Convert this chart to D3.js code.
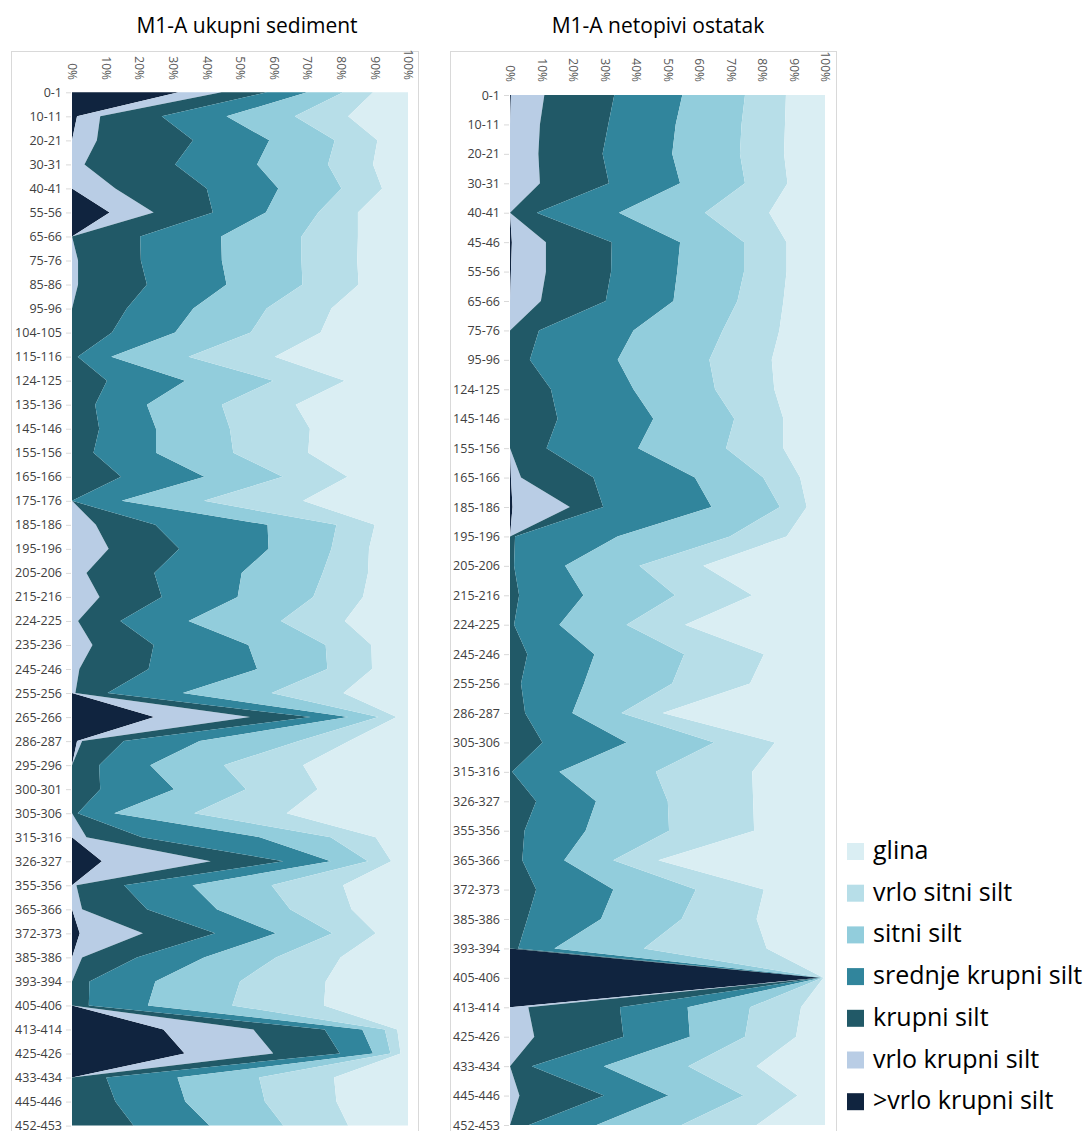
<!DOCTYPE html>
<html>
<head>
<meta charset="utf-8">
<script src="https://cdn.jsdelivr.net/npm/d3@7"></script>
<style>
  body { margin: 0; background: #ffffff; }
  svg { display: block; }
  text { font-family: "Open Sans", "Noto Sans", sans-serif; }
</style>
</head>
<body>
<svg id="chart" width="1090" height="1131"></svg>
<script>
// ---------- DATA ----------
const seriesNames = [">vrlo krupni silt", "vrlo krupni silt", "krupni silt", "srednje krupni silt", "sitni silt", "vrlo sitni silt", "glina"];
const seriesColors = ["#10243F", "#B9CDE5", "#215967", "#31859C", "#92CDDC", "#B7DEE8", "#DAEEF3"];
const percentTicks = ["0%", "10%", "20%", "30%", "40%", "50%", "60%", "70%", "80%", "90%", "100%"];

// Chart 1: M1-A ukupni sediment
const titleA = "M1-A ukupni sediment";
const depthsA = ["0-1","10-11","20-21","30-31","40-41","55-56","65-66","75-76","85-86","95-96","104-105","115-116","124-125","135-136","145-146","155-156","165-166","175-176","185-186","195-196","205-206","215-216","224-225","235-236","245-246","255-256","265-266","286-287","295-296","300-301","305-306","315-316","326-327","355-356","365-366","372-373","385-386","393-394","405-406","413-414","425-426","433-434","445-446","452-453"];
const sedGtVK  = [31.7,1.5,0,0,0,11.2,0,0,0,0,0,0,0,0,0,0,0,0,0,0,0,0,0,0,0,0,24.5,1.5,0,0,0,0,8.9,0,0,2.3,0,0,0,27.2,33.5,0,0,0];
const sedVK    = [12.8,6.9,7.4,3.7,12.9,13.1,0,1.8,1.8,0,0,0,0,0,0,0,0,0,7.1,10.9,4.3,8.2,1.8,6.1,2.2,1.0,28.5,1.5,0,0,0,4.3,32.4,1.3,3.0,18.8,3.0,0,0,26.8,26.4,0,0,0];
const sedK     = [13.5,18.3,28.6,27.0,27.2,17.6,20.3,18.7,20.5,16.3,11.9,1.7,10.4,6.9,8.1,6.4,14.6,0,17.7,21.0,20.2,18.5,12.6,18.2,20.6,9.6,18.0,12.4,8.1,8.4,1.7,16.5,21.6,14.2,19.3,21.5,16.3,5.2,5.0,21.2,19.8,10.2,12.9,18.3];
const sedSK    = [12.0,19.3,22.7,24.4,21.3,15.8,24.1,24.1,23.7,19.8,18.8,10.0,23.3,15.4,16.9,18.6,24.8,14.8,33.4,26.6,26.0,22.6,20.3,28.2,32.3,22.4,11.2,22.6,15.2,22.0,10.9,35.1,14.1,20.4,20.8,18.1,20.0,19.6,17.6,11.2,9.9,21.2,20.8,22.6];
const sedS     = [10.7,20.3,19.5,21.1,18.8,15.6,23.9,23.7,22.6,21.8,22.5,23.0,26.2,22.3,22.0,23.0,23.3,24.5,20.5,18.7,24.1,22.5,27.5,23.0,20.9,26.4,9.0,29.5,21.9,21.4,23.8,21.1,11.1,23.5,21.8,16.8,21.4,25.2,25.1,6.7,5.2,24.3,23.7,22.0];
const sedVS    = [8.9,15.9,12.7,13.4,12.1,11.8,16.8,16.6,16.7,19.3,20.8,25.7,21.3,22.0,23.8,22.3,19.3,29.5,11.4,11.2,13.5,14.8,19.0,13.6,13.3,21.4,5.4,15.0,23.6,21.3,27.5,13.4,6.9,21.3,18.3,12.9,19.2,25.5,27.3,3.7,3.0,22.3,21.3,19.3];
const sedGlina = [10.4,17.8,9.1,10.4,7.7,14.9,14.9,15.1,14.7,22.8,26.0,39.6,18.8,33.4,29.2,29.7,18.0,31.2,9.9,11.6,11.9,13.4,18.8,10.9,10.7,19.2,3.4,17.5,31.2,26.9,36.1,9.6,5.0,19.3,16.8,9.6,20.1,24.5,25.0,3.2,2.2,22.0,21.3,17.8];

// Chart 2: M1-A netopivi ostatak
const titleB = "M1-A netopivi ostatak";
const depthsB = ["0-1","10-11","20-21","30-31","40-41","45-46","55-56","65-66","75-76","95-96","124-125","145-146","155-156","165-166","185-186","195-196","205-206","215-216","224-225","245-246","255-256","286-287","305-306","315-316","326-327","355-356","365-366","372-373","385-386","393-394","405-406","413-414","425-426","433-434","445-446","452-453"];
const ostGtVK  = [0.3,0,0,0,0,0.6,0.3,0,0,0,0,0,0,0.3,0.8,0,0,0,0,0,0,0,0,0,0,0,0,0,0,0,98.4,0,0,0,0,0];
const ostVK    = [10.6,9.5,9.0,9.5,0,10.8,11.1,9.8,0,0,0,0,0,3.2,18.2,0,0,0,0,0,0,0,0,0,0,0,0,0,0,0,0,5.8,7.7,0,3.0,0];
const ostK     = [22.2,21.7,20.4,21.9,8.5,20.9,20.7,20.6,9.2,6.3,13.0,15.1,11.6,23.0,10.6,1.6,1.3,2.9,1.3,5.5,3.5,4.8,10.3,0.7,8.3,4.6,3.9,8.3,5.5,2.6,0.2,29.1,28.3,6.9,26.8,6.0];
const ostSK    = [21.6,21.4,22.1,22.6,26.1,21.7,21.0,21.5,30.0,27.9,26.2,30.4,29.1,32.2,34.4,32.5,16.2,20.4,14.4,21.3,20.0,15.0,26.7,15.0,19.0,19.4,13.3,24.5,23.4,11.5,0.3,21.5,21.1,22.9,20.5,21.5];
const ostS     = [19.9,20.9,21.5,20.6,27.3,20.3,21.2,20.3,28.3,29.1,25.9,25.7,27.9,21.7,21.7,35.7,23.6,29.1,21.3,28.5,28.0,15.6,27.8,30.6,22.8,26.5,15.6,26.2,25.6,28.4,0.3,19.8,17.5,26.8,23.8,27.0];
const ostVS    = [13.0,13.8,14.0,13.5,20.4,13.5,13.5,14.6,18.0,19.8,18.8,15.6,18.2,11.7,8.5,18.0,20.3,24.5,18.6,25.3,24.7,13.1,19.3,30.6,27.1,27.0,14.3,21.6,23.8,39.0,0.3,16.2,16.2,21.7,17.2,23.8];
const ostGlina = [12.4,12.7,13.0,11.9,17.7,12.2,12.2,13.2,14.5,16.9,16.1,13.2,13.2,7.9,5.8,12.2,38.6,23.1,44.4,19.4,23.8,51.5,15.9,23.1,22.8,22.5,52.9,19.4,21.7,18.5,0.5,7.6,9.2,21.7,8.7,21.7];

// ---------- DRAW ----------
const svg = d3.select("#chart");
const keys = seriesNames;

function buildRows(depths, cols) {
  return depths.map((d, i) => {
    const row = { depth: d };
    keys.forEach((k, j) => { row[k] = cols[j][i]; });
    return row;
  });
}

function drawChart(opt) {
  const rows = buildRows(opt.depths, opt.cols);
  const stack = d3.stack().keys(keys).offset(d3.stackOffsetExpand);
  const layers = stack(rows);

  const x = d3.scaleLinear().domain([0, 1]).range([opt.x0, opt.x1]);
  const y = d3.scalePoint().domain(opt.depths).range([opt.y0, opt.y1]);

  const g = svg.append("g");

  // frame
  g.append("rect")
    .attr("x", opt.fx0 + 0.5).attr("y", opt.fy0 + 0.5)
    .attr("width", opt.fx1 - opt.fx0).attr("height", 1200)
    .attr("fill", "#ffffff").attr("stroke", "#d9d9d9").attr("stroke-width", 1);

  const area = d3.area()
    .y(d => y(d.data.depth))
    .x0(d => x(d[0]))
    .x1(d => x(d[1]))
    .curve(d3.curveLinear);

  g.selectAll("path.layer")
    .data(layers)
    .join("path")
    .attr("class", "layer")
    .attr("fill", (d, i) => seriesColors[i])
    .attr("d", area);

  // top axis (percent), labels rotated
  const xAxis = d3.axisTop(x)
    .tickValues(d3.range(0, 1.0001, 0.1))
    .tickFormat((d, i) => percentTicks[i])
    .tickSize(0);
  const ax = g.append("g").attr("transform", `translate(0,${opt.axisY})`).call(xAxis);
  ax.select(".domain").remove();
  ax.selectAll("text")
    .attr("transform", "rotate(90)")
    .attr("x", 0).attr("y", 0)
    .attr("dy", "0.35em")
    .attr("text-anchor", "end")
    .attr("fill", "#595959")
    .style("font-size", "12px");

  // left axis (depth categories)
  const yAxis = d3.axisLeft(y).tickSize(5).tickPadding(4);
  const ay = g.append("g").attr("transform", `translate(${opt.x0 - 1},0)`).call(yAxis);
  ay.select(".domain").remove();
  ay.selectAll(".tick line").attr("stroke", "#d9d9d9");
  ay.selectAll("text")
    .attr("fill", "#404040")
    .style("font-size", "12.5px");

  // title
  svg.append("text")
    .attr("x", opt.titleX).attr("y", 33)
    .attr("text-anchor", "middle")
    .attr("fill", "#000000")
    .style("font-size", "21px")
    .text(opt.title);
}

drawChart({
  title: titleA, titleX: 247,
  depths: depthsA,
  cols: [sedGtVK, sedVK, sedK, sedSK, sedS, sedVS, sedGlina],
  x0: 72, x1: 408, y0: 92.3, y1: 1125.6,
  fx0: 11, fx1: 418, fy0: 51, axisY: 80
});

drawChart({
  title: titleB, titleX: 658,
  depths: depthsB,
  cols: [ostGtVK, ostVK, ostK, ostSK, ostS, ostVS, ostGlina],
  x0: 510, x1: 825, y0: 95, y1: 1125,
  fx0: 450, fx1: 836, fy0: 51, axisY: 82
});

// legend (top item = glina, i.e. reverse order)
const legendOrder = seriesNames.map((n, i) => ({ name: n, color: seriesColors[i] })).reverse();
const lg = svg.append("g").attr("transform", "translate(847,843)");
const item = lg.selectAll("g.item").data(legendOrder).join("g")
  .attr("class", "item")
  .attr("transform", (d, i) => `translate(0,${i * 41.7})`);
item.append("rect").attr("width", 17).attr("height", 17).attr("fill", d => d.color);
item.append("text")
  .attr("x", 26).attr("y", 16)
  .attr("fill", "#000000")
  .style("font-size", "25px")
  .text(d => d.name);
</script>
</body>
</html>
